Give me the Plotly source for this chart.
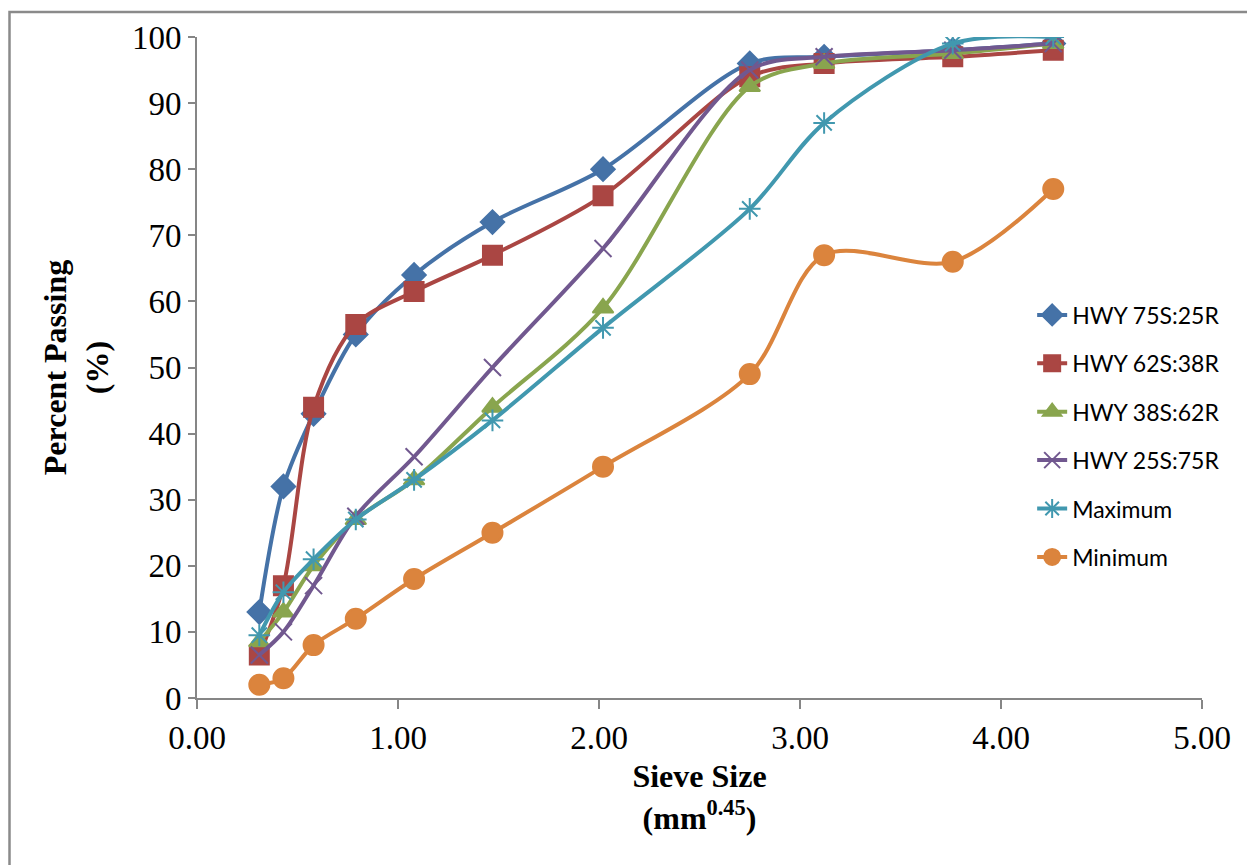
import plotly.graph_objects as go

sieve_x = [0.31, 0.43, 0.58, 0.79, 1.08, 1.47, 2.02, 2.75, 3.12, 3.76, 4.26]

hwy_75s_25r = [13, 32, 43, 55, 64, 72, 80, 96, 97, 98, 99]
hwy_62s_38r = [6.5, 17, 44, 56.5, 61.5, 67, 76, 94, 96, 97, 98]
hwy_38s_62r = [8.5, 13, 20, 27, 33, 44, 59, 92.5, 96, 97.5, 99]
hwy_25s_75r = [6.5, 10, 17, 27.5, 36.5, 50, 68, 95, 97, 98, 99]
maximum = [9.5, 16, 21, 27, 33, 42, 56, 74, 87, 99, 100]
minimum = [2, 3, 8, 12, 18, 25, 35, 49, 67, 66, 77]

series_names = ["HWY 75S:25R", "HWY 62S:38R", "HWY 38S:62R", "HWY 25S:75R", "Maximum", "Minimum"]
series_values = [hwy_75s_25r, hwy_62s_38r, hwy_38s_62r, hwy_25s_75r, maximum, minimum]
colors = ["#4572A7", "#AA4643", "#89A54E", "#71588F", "#4198AF", "#DB843D"]
symbols = ["diamond", "square", "triangle-up", "x-thin-open", "asterisk-open", "circle"]
sizes = [18, 19, 18, 17, 18, 20]

fig = go.Figure()
for i, (name, vals) in enumerate(zip(series_names, series_values)):
    fig.add_trace(go.Scatter(
        x=sieve_x, y=vals, name=name, mode="lines+markers",
        line=dict(color=colors[i], width=4, shape="spline", smoothing=0.9),
        marker=dict(symbol=symbols[i], size=sizes[i], color=colors[i],
                    line=dict(color=colors[i], width=2)),
        legendgroup=f"g{i}",
    ))

tick_font = dict(family="Liberation Serif", size=33, color="black")
title_font = dict(family="Liberation Serif", size=32, color="black")
fig.update_layout(
    width=1247, height=857,
    paper_bgcolor="white", plot_bgcolor="white",
    margin=dict(l=189, r=53, t=27, b=167),
    showlegend=True,
    legend=dict(x=0.831, y=0.612, xanchor="left", yanchor="top",
                font=dict(family="Lato", size=23, color="black"),
                tracegroupgap=15.5, bgcolor="rgba(0,0,0,0)"),
    xaxis=dict(range=[0, 5], dtick=1, tick0=0, tickformat=".2f",
               showgrid=False, zeroline=False, showline=True, linecolor="#868686", linewidth=2,
               ticks="outside", ticklen=9, tickcolor="#868686", tickwidth=1.5,
               tickfont=tick_font,
               title=dict(text="<b>Sieve Size</b><br><b>(mm<sup>0.45</sup>)</b>",
                          font=title_font, standoff=10)),
    yaxis=dict(range=[0, 100], dtick=10, tick0=0,
               showgrid=False, zeroline=False, showline=True, linecolor="#868686", linewidth=2,
               ticks="outside", ticklen=7, tickcolor="#868686", tickwidth=1.5,
               tickfont=tick_font,
               title=dict(text="<b>Percent Passing</b><br><b>(%)</b>",
                          font=title_font, standoff=14)),
    shapes=[dict(type="rect", xref="paper", yref="paper",
                 x0=(9.5 - 197) / 1005, x1=(1253 - 197) / 1005,
                 y0=(698 - 880) / 663, y1=(698 - 10) / 663,
                 line=dict(color="#8A8A8A", width=2.5), fillcolor="rgba(0,0,0,0)", layer="below")],
)

fig.write_html("out.html")
